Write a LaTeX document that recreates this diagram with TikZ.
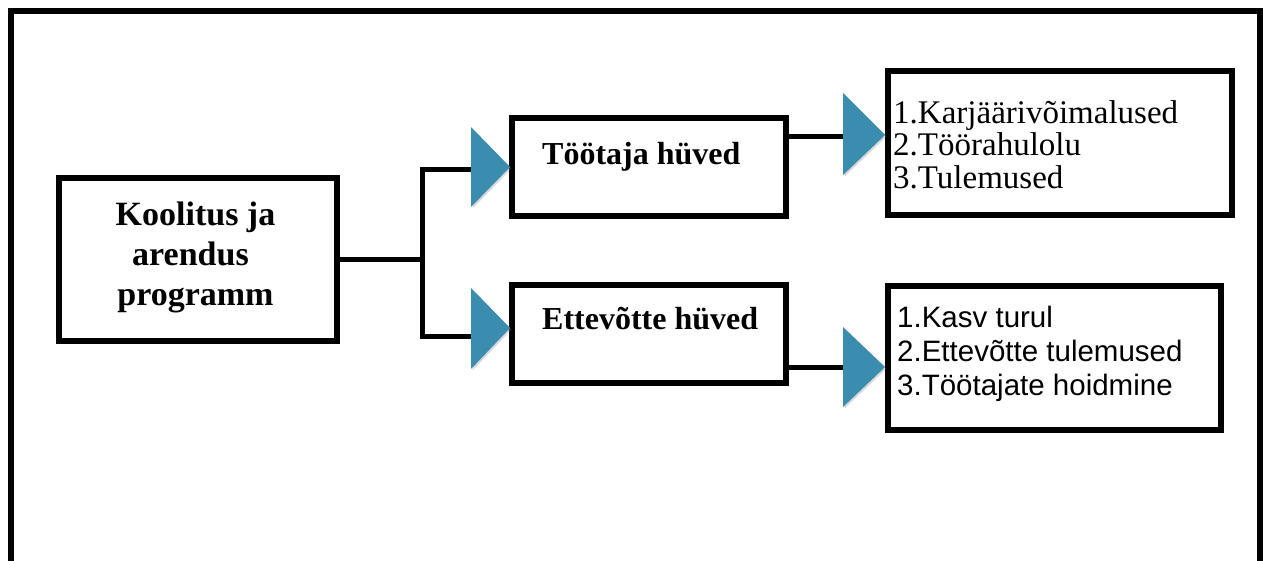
\documentclass[tikz,border=0pt]{standalone}
\usepackage{fontspec}
\setmainfont{Liberation Serif}
\newfontfamily\arialfont{Liberation Sans}
\usetikzlibrary{shadows}
\definecolor{tricol}{RGB}{58,141,175}
\begin{document}
\begin{tikzpicture}[x=1pt,y=-1pt,
  box/.style={draw=black, line width=6pt, inner sep=0pt, fill=white},
  conn/.style={draw=black, line width=5pt},
  tri/.style={fill=tricol, drop shadow={shadow xshift=1.5pt, shadow yshift=-1.5pt, opacity=0.3}},
  lbl/.style={inner sep=0pt}]
\clip (0,0) rectangle (1269,560);
\fill[white] (0,0) rectangle (1269,560);
% outer frame
\draw[line width=6pt] (10.5,11) rectangle (1260,640);

% connector end points
\coordinate (j) at (422,259.5);
\coordinate (b1) at (472,169);
\coordinate (b2) at (472,336);
\coordinate (c3) at (843,136);
\coordinate (c4) at (843,367);

% boxes
\node[box, minimum width=278pt, minimum height=163pt] (main) at (198,259.5) {};
\node[box, minimum width=274pt, minimum height=98pt] (toot) at (649,167) {};
\node[box, minimum width=274pt, minimum height=98pt] (ette) at (649,334) {};
\node[box, minimum width=344pt, minimum height=144pt] (list1) at (1060,143) {};
\node[box, minimum width=333pt, minimum height=144pt] (list2) at (1054.5,358) {};

\draw[conn] (main.east) -- (j);
\draw[conn] (b1) -| (j) -- (j |- b2) -- (b2);
\draw[conn] (toot.east |- c3) -- (c3);
\draw[conn] (ette.east |- c4) -- (c4);

% triangles
\fill[tri] (471,127) -- (510,167) -- (471,207) -- cycle;
\fill[tri] (471,288) -- (510,328) -- (471,369) -- cycle;
\fill[tri] (843,93) -- (885,135) -- (843,175) -- cycle;
\fill[tri] (843,327) -- (885,367) -- (843,407) -- cycle;

% texts
\node[lbl, anchor=base, font=\bfseries\fontsize{34}{40}\selectfont] (tmain) at (195.5,225)
  {\begin{tabular}[t]{@{}c@{}}Koolitus ja\\arendus\kern10pt\\programm\end{tabular}};
\node[lbl, anchor=base west, font=\bfseries\fontsize{32}{36}\selectfont] (ttoot) at (542,164) {Töötaja hüved};
\node[lbl, anchor=base west, font=\bfseries\fontsize{32}{36}\selectfont] (tette) at (542,329) {Ettevõtte hüved};
\node[lbl, anchor=base west, font=\fontsize{33}{32.5}\selectfont] (tlist1) at (893,123)
  {\begin{tabular}[t]{@{}l@{}}1.Karjäärivõimalused\\2.Töörahulolu\\3.Tulemused\end{tabular}};
\node[lbl, anchor=base west, font=\arialfont\fontsize{29.5}{34}\selectfont] (tlist2) at (897,327)
  {\begin{tabular}[t]{@{}l@{}}1.Kasv turul\\2.Ettevõtte tulemused\\3.Töötajate hoidmine\end{tabular}};
\end{tikzpicture}
\end{document}
